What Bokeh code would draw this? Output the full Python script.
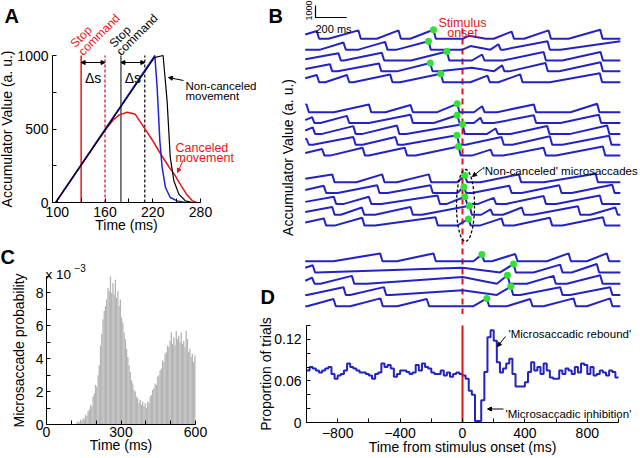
import numpy as np
from bokeh.plotting import figure
from bokeh.layouts import row, column
from bokeh.models import Range1d, FixedTicker, Label, Arrow, NormalHead, LinearAxis
from bokeh.embed import file_html
from bokeh.resources import INLINE

FONT = "Liberation Sans"
BLUE = "#2323c4"
BLUE_A = "#2020e0"
RED = "#e3151b"
GREEN = "#33e033"
GREY = "#b5b5b5"

# ---------------- Panel A : race model ----------------
canceled_t = [98, 150, 162, 170, 178, 188, 198, 209, 220, 230, 240, 247, 255, 262, 270, 275]
canceled_v = [0, 413, 505, 560, 596, 614, 600, 511, 420, 330, 245, 193, 120, 60, 11, 0]
noncanceled_t = [98, 222, 233, 238, 242, 246.5, 252.8, 261, 270]
noncanceled_v = [0, 985, 1000, 693, 307, 148, 57, 11, 0]
fast_t = [98, 222.6, 225.5, 228.9, 231.8, 236, 242, 250.7, 261]
fast_v = [0, 1000, 784, 420, 239, 102, 34, 11, 0]
stop_red, stop_black, delta_s = 130, 180, 30

# ---------------- Panel B : accumulator traces ----------------
# events: (rise start, peak time, peak value[, end of decay for canceled])  ms / a.u.
traces = [
    [(-1100, -934, 650), (-859, -667, 700), (-549, -410, 700), (-335, -186, 750), (0, 40, 250, 150), (200, 315, 600), (395, 552, 700), (680, 883, 750)],
    [(-912, -763, 600), (-667, -496, 650), (-421, -218, 700), (0, 51, 300, 179), (179, 230, 450), (264, 545, 700), (628, 1100, 850)],
    [(-1050, -795, 600), (-760, -517, 650), (-330, -100, 750), (60, 126, 500), (260, 520, 700), (640, 885, 700)],
    [(-1080, -850, 600), (-800, -535, 650), (-420, -207, 700), (-150, 60, 300, 200), (200, 254, 500), (300, 532, 700), (620, 885, 750)],
    [(-1100, -934, 600), (-880, -741, 600), (-700, -464, 650), (-400, -139, 700), (50, 160, 550), (230, 370, 650), (560, 880, 750)],
    [(-1150, -1000, 650), (-825, -600, 650), (-494, -333, 600), (-162, -34, 700), (73, 126, 500), (222, 457, 650), (692, 863, 700)],
    [(-1050, -964, 500), (-910, -741, 600), (-600, -333, 700), (-184, -34, 650), (73, 115, 450), (201, 457, 650), (628, 874, 700)],
    [(-1060, -960, 550), (-900, -700, 650), (-640, -420, 700), (-360, 0, 800), (158, 212, 450), (308, 543, 650), (692, 927, 700)],
    [(-1080, -1000, 500), (-960, -700, 650), (-640, -430, 650), (-380, -36, 800), (20, 250, 650), (320, 560, 700), (640, 940, 750)],
    [(-1080, -900, 550), (-850, -640, 650), (-600, -370, 650), (-300, -26, 750), (60, 180, 500), (260, 520, 650), (600, 900, 750)],
    [(-1150, -835, 650), (-680, -515, 650), (-420, -216, 650), (-34, 15, 550), (115, 361, 650), (521, 853, 700)],
    [(-1100, -889, 600), (-800, -547, 650), (-480, -205, 650), (-34, 9, 500), (60, 300, 600), (380, 620, 650), (700, 960, 700)],
    [(-1080, -825, 600), (-760, -600, 600), (-520, -160, 700), (-100, 15, 600), (100, 200, 500), (280, 520, 650), (600, 880, 700)],
    [(-1100, -835, 650), (-780, -645, 600), (-560, -333, 650), (-260, 45, 750), (120, 180, 450), (260, 380, 600), (450, 740, 700), (820, 980, 600)],
    [(-1100, -889, 600), (-820, -643, 650), (-560, -173, 700), (-34, 38, 550), (110, 250, 600), (330, 560, 650), (640, 900, 700)],
    [(-827, -528, 650), (-421, -186, 650), (70, 124, 550), (188, 338, 600), (541, 680, 650), (797, 925, 650)],
    [(-1100, -960, 600), (-934, 0, 400, 241), (241, 327, 700), (455, 626, 650), (700, 861, 700)],
    [(-1050, -964, 500), (-910, -709, 650), (-613, 0, 550, 220), (220, 288, 700), (412, 583, 650), (669, 883, 700)],
    [(-996, -763, 650), (-720, -504, 650), (-461, 0, 400, 220), (220, 310, 700), (370, 626, 650), (690, 946, 650)],
    [(-996, -827, 600), (-720, -526, 650), (-419, -229, 600), (70, 156, 650), (284, 434, 600), (519, 712, 650), (797, 946, 650)],
]
microsaccade_t = [-186, -218, -100, -207, -139, -34, -34, 0, -36, -26,
                  15, 9, 15, 45, 38, 124, 327, 288, 310, 156]
scale_au, scale_ms = 1000, 200

# ---------------- Panel C : microsaccade probability (x 1e-3), 5 ms bins from 120 ms ----------------
prob_bin0, prob_binw = 120, 5
prob = [0.1, 0.2, 0.1, 0.3, 0.2, 0.4, 0.3, 0.6, 0.5, 0.8, 0.9, 1.2, 1.1, 1.7, 1.9, 2.4, 2.3, 3.0, 3.6, 4.8,
        5.5, 6.4, 6.9, 7.2, 7.6, 8.3, 8.1, 9.0, 8.0, 8.6, 7.9, 8.8, 7.7, 8.1, 7.2, 7.6, 6.5, 6.2, 5.6, 5.2,
        4.6, 4.1, 3.6, 3.2, 2.7, 2.5, 2.1, 2.0, 1.7, 1.6, 1.3, 1.5, 1.2, 1.4, 1.1, 1.3, 1.0, 1.4, 1.3, 1.7,
        1.8, 2.1, 2.2, 2.5, 2.4, 2.9, 3.0, 3.3, 3.4, 3.9, 3.8, 4.3, 4.4, 4.8, 4.7, 5.1, 5.6, 4.9, 5.3, 4.8,
        5.7, 5.2, 5.4, 5.0, 5.6, 4.9, 5.1, 4.7, 5.7, 5.2, 4.4, 4.6, 4.1, 4.3, 3.8, 4.2]

# ---------------- Panel D : proportion of trials, 20 ms bins from -1000 ms ----------------
prop_bin0, prop_binw = -1000, 20
prop = [0.075, 0.080, 0.078, 0.075, 0.072, 0.075, 0.078, 0.080, 0.070, 0.063,
        0.068, 0.070, 0.075, 0.085, 0.080, 0.078, 0.075, 0.072, 0.072, 0.070,
        0.068, 0.063, 0.070, 0.072, 0.085, 0.080, 0.083, 0.078, 0.066, 0.070,
        0.075, 0.075, 0.073, 0.070, 0.072, 0.083, 0.075, 0.085, 0.080, 0.078,
        0.072, 0.070, 0.070, 0.075, 0.068, 0.072, 0.066, 0.070, 0.072, 0.070,
        0.068, 0.063, 0.046, 0.040, 0.002, 0.002, 0.032, 0.073, 0.123, 0.133,
        0.118, 0.087, 0.072, 0.078, 0.085, 0.092, 0.070, 0.052, 0.052, 0.052,
        0.058, 0.073, 0.087, 0.075, 0.080, 0.070, 0.085, 0.075, 0.065, 0.063,
        0.063, 0.075, 0.070, 0.078, 0.075, 0.070, 0.080, 0.072, 0.085, 0.083,
        0.070, 0.080, 0.068, 0.070, 0.075, 0.072, 0.068, 0.075, 0.073, 0.065]


# ---------------- helpers ----------------
def panel(box, fx, fy, xd, yd):
    """box: page px (left, top, right, bottom); fx: page px of xd; fy: page px of yd."""
    L, T, R, Bm = box
    sx = (fx[1] - fx[0]) / (xd[1] - xd[0])
    sy = (fy[0] - fy[1]) / (yd[1] - yd[0])
    xr = Range1d(xd[0] - (fx[0] - L) / sx, xd[1] + (R - fx[1]) / sx)
    yr = Range1d(yd[0] - (Bm - fy[0]) / sy, yd[1] + (fy[1] - T) / sy)
    p = figure(width=R - L, height=Bm - T, x_range=xr, y_range=yr, output_backend="svg",
               toolbar_location=None, x_axis_location=None, y_axis_location=None,
               title=None, min_border=0)
    p.outline_line_color = None
    p.grid.grid_line_color = None
    p.background_fill_color = "white"
    p.border_fill_color = "white"
    X = lambda px: xd[0] + (px - fx[0]) / sx
    Y = lambda py: yd[0] + (fy[0] - py) / sy
    return p, X, Y


def axis(p, side, loc, bounds, ticks, minor, label, tick_sd, lab_sd, size="14px", overrides=None, line=True):
    ax = LinearAxis(fixed_location=loc, bounds=bounds,
                    ticker=FixedTicker(ticks=ticks, minor_ticks=minor), axis_label=label)
    ax.axis_line_color = "black" if line else None
    ax.major_tick_in = 4
    ax.major_tick_out = 0
    ax.minor_tick_in = 4
    ax.minor_tick_out = 0
    ax.major_tick_line_color = "black"
    ax.minor_tick_line_color = "black"
    ax.major_label_text_font = FONT
    ax.major_label_text_font_size = size
    ax.major_label_text_color = "black"
    ax.axis_label_text_font = FONT
    ax.axis_label_text_font_size = size
    ax.axis_label_text_font_style = "normal"
    ax.axis_label_text_color = "black"
    ax.major_label_standoff = tick_sd
    ax.axis_label_standoff = lab_sd
    if overrides:
        ax.major_label_overrides = overrides
    p.add_layout(ax, side)
    return ax


def lab(p, x, y, text, size="12px", color="black", align="left", baseline="alphabetic", angle=0.0, bold=False):
    p.add_layout(Label(x=x, y=y, text=text, text_font=FONT, text_font_size=size, text_color=color,
                       text_align=align, text_baseline=baseline, angle=angle,
                       text_font_style="bold" if bold else "normal"))


def arrow(p, x0, y0, x1, y1, color="black", both=False, size=4):
    def head():
        return NormalHead(size=size, line_color=color, fill_color=color, line_width=1)
    p.add_layout(Arrow(x_start=x0, y_start=y0, x_end=x1, y_end=y1, line_color=color, line_width=1,
                       end=head(), start=head() if both else None))


# ================= Panel A =================
pA, ax_, ay_ = panel((0, 0, 256, 236), (52, 200), (202, 55), (94, 280), (0, 1000))
axis(pA, "below", 0, (94, 280), [100, 160, 220, 280], [130, 190, 250], "Time (ms)", 4, -3)
axis(pA, "left", 94, (0, 1000), [0, 500, 1000], [250, 750], "Accumulator Value (a. u.)", 4, -1)

pA.line([stop_red, stop_red], [0, 1000], color=RED, line_width=1.5)
pA.line([stop_red + delta_s] * 2, [0, 1000], color=RED, line_width=1.3, line_dash="3 2")
pA.line([stop_black, stop_black], [0, 1000], color="#555555", line_width=1.5)
pA.line([stop_black + delta_s] * 2, [0, 1000], color="black", line_width=1.2, line_dash="3 2")
pA.line(canceled_t, canceled_v, color=RED, line_width=1.5)
pA.line(fast_t, fast_v, color=BLUE_A, line_width=1.5)
pA.line(noncanceled_t, noncanceled_v, color="black", line_width=1.2)

for s in (stop_red, stop_black):
    arrow(pA, s, ay_(62), s + delta_s, ay_(62), both=True, size=4)
    lab(pA, s + delta_s / 2, ay_(77), "Δs", size="14px", align="center")
lab(pA, ax_(72), ay_(45), "Stop", size="12px", color=RED, angle=np.pi / 4)
lab(pA, ax_(80), ay_(53), "command", size="12px", color=RED, angle=np.pi / 4)
lab(pA, ax_(111), ay_(45), "Stop", size="12px", angle=np.pi / 4)
lab(pA, ax_(118), ay_(53), "command", size="12px", angle=np.pi / 4)
lab(pA, ax_(185), ay_(85), "Non-canceled", size="11.5px")
lab(pA, ax_(185), ay_(95), "movement", size="11.5px")
arrow(pA, ax_(183), ay_(80), ax_(168), ay_(77))
lab(pA, ax_(175), ay_(147), "Canceled", size="12.5px", color=RED)
lab(pA, ax_(175), ay_(157), "movement", size="12.5px", color=RED)
arrow(pA, ax_(183), ay_(159), ax_(177), ay_(172), color=RED)
lab(pA, ax_(4), ay_(15), "A", size="20px", bold=True)

# ================= Panel C =================
pC, cx_, cy_ = panel((0, 236, 256, 458), (46, 195), (424, 276), (0, 600), (0, 9))
axis(pC, "below", 0, (0, 600), [0, 300, 600], [100, 200, 400, 500], "Time (ms)", 2, -3)
axis(pC, "left", 0, (0, 9), [0, 2, 4, 6, 8], [1, 3, 5, 7, 9], "Microsaccade probability", 3, 6)
centers = prob_bin0 + prob_binw * (np.arange(len(prob)) + 0.5)
pC.vbar(x=centers, top=prob, width=prob_binw * 1.05, fill_color=GREY, line_color=None)
lab(pC, cx_(45), cy_(274), "x 10", size="13.5px")
lab(pC, cx_(74), cy_(267), "−3", size="10px")
lab(pC, cx_(0), cy_(256), "C", size="20px", bold=True)

# ================= Panel B =================
pB, bx_, by_ = panel((256, 0, 640, 314), (306, 618), (12, 0), (-1000, 1000), (-scale_au, 0))
axis(pB, "left", -1000, (by_(322), 0), [], [], "Accumulator Value (a. u.)", 0, 11, line=False)

group_top = [38.3, 111.7, 181.7, 260.7]
row_gap = [10.85, 10.85, 10.85, 11.25]
xs, ys, gx, gy = [], [], [], []
for i, ev in enumerate(traces):
    g, r = divmod(i, 5)
    base = by_(group_top[g] + r * row_gap[g])
    T, V = [-3000.0], [0.0]
    for e in ev:
        if len(e) == 3:
            s, pk, a = e
            end = pk + 15
        else:
            s, pk, a, end = e
        T += [s, pk, end]
        V += [0, a, 0]
    T.append(3000.0)
    V.append(0.0)
    T, V = np.array(T, float), np.array(V, float)
    t0, t1 = -1008, 1012
    keep = (T > t0) & (T < t1)
    tt = np.concatenate([[t0], T[keep], [t1]])
    vv = np.concatenate([[np.interp(t0, T, V)], V[keep], [np.interp(t1, T, V)]])
    xs.append(list(tt))
    ys.append(list(vv + base))
    gx.append(microsaccade_t[i])
    gy.append(float(np.interp(microsaccade_t[i], T, V)) + base)

pB.line([0, 0], [by_(28), by_(314)], color=RED, line_width=2, line_dash="6 4")
pB.multi_line(xs, ys, line_color=BLUE, line_width=2)
pB.scatter(gx, gy, size=7, color=GREEN, line_color=None)
pB.ellipse(x=[bx_(465)], y=[by_(205)], width=18 / 0.156, height=by_(169) - by_(241),
           fill_color=None, line_color="black", line_dash="3 2", line_width=1.3)
sx, sy = bx_(315), by_(17)
pB.line([sx, sx, sx + scale_ms], [sy + scale_au, sy, sy], color="black", line_width=1.2)
lab(pB, sx, by_(28), "200 ms", size="11px")
lab(pB, bx_(308), by_(20), "1000", size="9px", angle=np.pi / 2)
lab(pB, 0, by_(22), "Stimulus", size="12.5px", color=RED, align="center")
lab(pB, 0, by_(32), "onset", size="12.5px", color=RED, align="center")
lab(pB, bx_(482), by_(170), "'Non-canceled' microsaccades", size="11.5px")
arrow(pB, bx_(482), by_(168), bx_(472), by_(176))
lab(pB, bx_(268), by_(15), "B", size="20px", bold=True)
lab(pB, bx_(260), by_(296), "D", size="20px", bold=True)

# ================= Panel D =================
pD, dx_, dy_ = panel((256, 314, 640, 458), (306, 618), (422, 325), (-1000, 1000), (0, 0.14))
axis(pD, "below", 0, (-1000, 1000), [-800, -400, 0, 400, 800], [-1000, -600, -200, 200, 600, 1000],
     "Time from stimulus onset (ms)", 5, -2)
axis(pD, "left", -1000, (0, 0.14), [0, 0.06, 0.12], [0.02, 0.04, 0.08, 0.10, 0.14],
     "Proportion of trials", 5, -3, overrides={0: "0", 0.06: "0.06", 0.12: "0.12"})
edges = prop_bin0 + prop_binw * np.arange(len(prop) + 1)
pD.step(edges, list(prop) + [prop[-1]], mode="after", color=BLUE, line_width=2)
pD.line([0, 0], [0, 0.14], color=RED, line_width=2)
lab(pD, dx_(508), dy_(333), "'Microsaccadic rebound'", size="11.5px")
arrow(pD, dx_(505), dy_(336), dx_(497), dy_(346))
lab(pD, dx_(505), dy_(413), "'Microsaccadic inhibition'", size="11.5px")
arrow(pD, dx_(503), dy_(408.5), dx_(487), dy_(408.5))

layout = row(column(pA, pC), column(pB, pD))
open("out.html", "w").write(file_html(layout, INLINE))
